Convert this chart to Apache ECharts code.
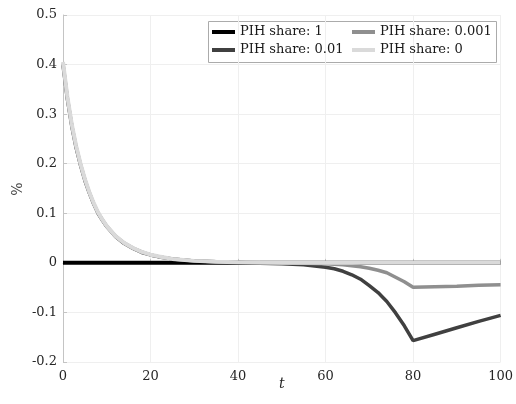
<!DOCTYPE html>
<html>
<head>
<meta charset="utf-8">
<script src="https://cdn.jsdelivr.net/npm/echarts@6/dist/echarts.min.js"></script>
<style>html,body{margin:0;padding:0;background:#fff}#c{width:516px;height:404px}</style>
</head>
<body>
<div id="c"></div>
<script>
const t = [0,1,2,3,4,5,6,7,8,9,10,12,14,16,18,20,22,25,30,35,40,45,50,55,60,62,64,66,68,70,72,74,76,78,80,85,90,95,100];
const share1 = [0,0,0,0,0,0,0,0,0,0,0,0,0,0,0,0,0,0,0,0,0,0,0,0,0,0,0,0,0,0,0,0,0,0,0,0,0,0,0];
const share001 = [0.399,0.330,0.276,0.232,0.197,0.166,0.141,0.119,0.100,0.086,0.073,0.053,0.039,0.029,0.021,0.016,0.012,0.008,0.004,0.002,0.0005,-0.001,-0.002,-0.004,-0.009,-0.012,-0.017,-0.024,-0.033,-0.046,-0.060,-0.078,-0.101,-0.127,-0.157,-0.144,-0.131,-0.118,-0.106];
const share0001 = [0.402,0.333,0.278,0.234,0.199,0.168,0.142,0.120,0.101,0.087,0.074,0.054,0.040,0.030,0.022,0.016,0.012,0.008,0.004,0.002,0.001,0,-0.0003,-0.001,-0.002,-0.003,-0.004,-0.006,-0.008,-0.011,-0.015,-0.020,-0.029,-0.038,-0.049,-0.048,-0.047,-0.045,-0.044];
const share0 = [0.405,0.335,0.280,0.236,0.200,0.169,0.143,0.121,0.102,0.087,0.074,0.054,0.040,0.030,0.022,0.0165,0.013,0.008,0.004,0.002,0.001,0.0005,0.0002,0,0,0,0,0,0,0,0,0,0,0,0,0,0,0,0];
const names = ['PIH share: 1','PIH share: 0.01','PIH share: 0.001','PIH share: 0'];
const yName = '%';
const xName = 't';
const colors = ['#000000','#404040','#8f8f8f','#dadada'];
const widths = [4,3.5,3.5,4];
const xTicks = {min:0,max:100,interval:20};
const yTicks = {min:-0.2,max:0.5,interval:0.1};

const FONT = 'DejaVu Serif';
const seriesData = [share1, share001, share0001, share0];
const chart = echarts.init(document.getElementById('c'), null, {renderer:'canvas'});
chart.setOption({
  animation:false,
  backgroundColor:'#ffffff',
  color: colors,
  textStyle:{fontFamily:FONT},
  grid:{left:63,right:14,top:15,bottom:42,containLabel:false},
  xAxis:{type:'value',min:xTicks.min,max:xTicks.max,interval:xTicks.interval,
    name:xName,nameLocation:'middle',nameGap:15,nameMoveOverlap:false,
    nameTextStyle:{fontFamily:FONT,fontStyle:'italic',fontSize:14,color:'#262626'},
    axisLine:{lineStyle:{color:'#c4c4c4',width:1}},
    axisTick:{inside:true,length:4,lineStyle:{color:'#c4c4c4'}},
    axisLabel:{margin:8,fontFamily:FONT,fontSize:13,color:'#262626'},
    splitLine:{show:true,lineStyle:{color:'#efefef',width:1}}},
  yAxis:{type:'value',min:yTicks.min,max:yTicks.max,interval:yTicks.interval,
    axisLine:{show:true,lineStyle:{color:'#c4c4c4',width:1}},
    axisTick:{show:true,inside:true,length:4,lineStyle:{color:'#c4c4c4'}},
    axisLabel:{margin:6,fontFamily:FONT,fontSize:13,color:'#262626',formatter:v=>String(+v.toFixed(1))},
    splitLine:{show:true,lineStyle:{color:'#efefef',width:1}}},
  legend:[
    {orient:'vertical',left:212,top:25,padding:0,itemGap:4,itemWidth:23,itemHeight:4,icon:'rect',itemStyle:{borderWidth:0},
     data:[names[0],names[1]],textStyle:{fontFamily:FONT,fontSize:13,lineHeight:14,color:'#1a1a1a'}},
    {orient:'vertical',left:352,top:25,padding:0,itemGap:4,itemWidth:23,itemHeight:4,icon:'rect',itemStyle:{borderWidth:0},
     data:[names[2],names[3]],textStyle:{fontFamily:FONT,fontSize:13,lineHeight:14,color:'#1a1a1a'}}
  ],
  graphic:[
    {type:'rect',left:208,top:21,shape:{width:288,height:41},style:{fill:'#ffffff',stroke:'#ababab',lineWidth:1},z:-1,zlevel:0},
    {type:'text',x:18,y:189,rotation:Math.PI/2,style:{text:yName,font:'14px "DejaVu Serif"',fill:'#404040',align:'center',verticalAlign:'middle'}}
  ],
  series: names.map((n,i)=>({
    name:n,type:'line',showSymbol:false,symbol:'none',smooth:false,
    lineStyle:{color:colors[i],width:widths[i]},itemStyle:{color:colors[i]},
    data:t.map((x,j)=>[x,seriesData[i][j]]),z:2+i
  }))
});
</script>
</body>
</html>
